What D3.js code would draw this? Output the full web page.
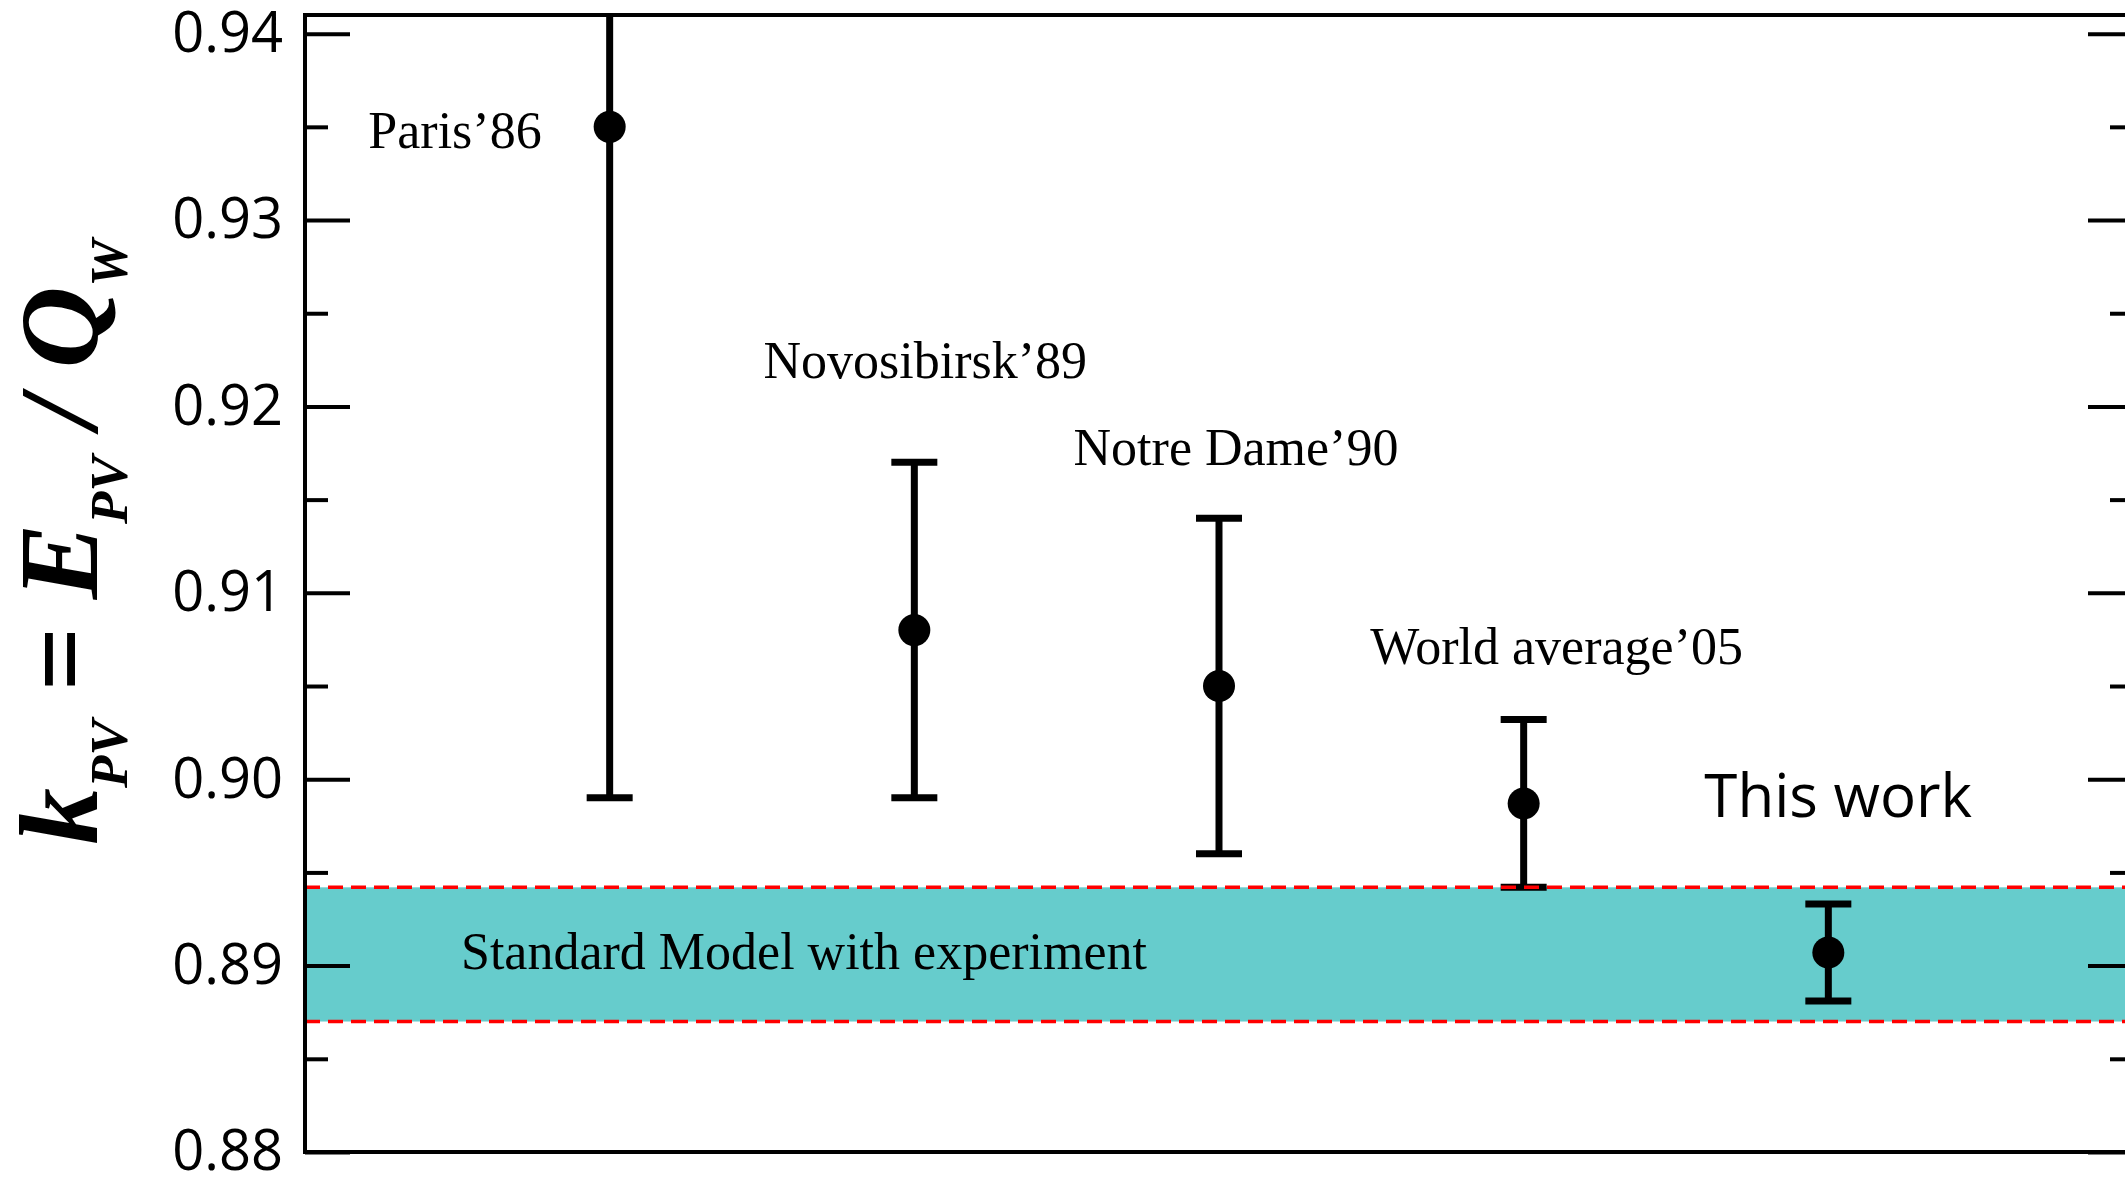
<!DOCTYPE html>
<html>
<head>
<meta charset="utf-8">
<script src="https://cdn.jsdelivr.net/npm/d3@7"></script>
<style>
  html, body { margin: 0; padding: 0; background: #fff; }
  svg { display: block; }
</style>
</head>
<body>
<script>
// data
const experiments = ['Paris\u201986', 'Novosibirsk\u201989', 'Notre Dame\u201990', 'World average\u201905', 'This work'];
const kpvValues = [0.935, 0.908, 0.905, 0.8987, 0.8907];
const kpvErrors = [0.036, 0.009, 0.009, 0.0045, 0.0026];
const yMajorTicks = [0.88, 0.89, 0.90, 0.91, 0.92, 0.93, 0.94];
const yTickLabels = ['0.88', '0.89', '0.90', '0.91', '0.92', '0.93', '0.94'];
const yMinorTicks = [0.885, 0.895, 0.905, 0.915, 0.925, 0.935];
const smBand = [0.8870, 0.8942];
const smLabel = 'Standard Model with experiment';

const width = 2125;
const height = 1177;
const plot = { left: 305, right: 2133, top: 15, bottom: 1152 };

const svg = d3.select('body').append('svg')
    .attr('width', width)
    .attr('height', height);

const x = d3.scalePoint()
    .domain(experiments)
    .range([plot.left, plot.right])
    .padding(1.0);

const y = d3.scaleLinear()
    .domain([0.88, 0.941])
    .range([plot.bottom, plot.top]);

svg.append('clipPath').attr('id', 'plotClip')
    .append('rect')
    .attr('x', plot.left)
    .attr('y', plot.top)
    .attr('width', plot.right - plot.left)
    .attr('height', plot.bottom - plot.top);

const inner = svg.append('g').attr('clip-path', 'url(#plotClip)');

// standard model band
inner.append('rect')
    .attr('x', plot.left)
    .attr('y', y(smBand[1]))
    .attr('width', plot.right - plot.left)
    .attr('height', y(smBand[0]) - y(smBand[1]))
    .attr('fill', '#66CCCC');

// error bars
const capHalf = 23;
const points = experiments.map((name, i) => ({ name, v: kpvValues[i], e: kpvErrors[i] }));

const bars = inner.selectAll('g.bar')
    .data(points)
    .enter()
    .append('g')
    .attr('class', 'bar');

bars.append('line')
    .attr('x1', (d) => x(d.name))
    .attr('x2', (d) => x(d.name))
    .attr('y1', (d) => y(d.v + d.e))
    .attr('y2', (d) => y(d.v - d.e))
    .attr('stroke', '#000')
    .attr('stroke-width', 7);

[1, -1].forEach((sign) =>
{
    bars.append('line')
        .attr('x1', (d) => x(d.name) - capHalf)
        .attr('x2', (d) => x(d.name) + capHalf)
        .attr('y1', (d) => y(d.v + sign * d.e))
        .attr('y2', (d) => y(d.v + sign * d.e))
        .attr('stroke', '#000')
        .attr('stroke-width', 7);
});

bars.append('circle')
    .attr('cx', (d) => x(d.name))
    .attr('cy', (d) => y(d.v))
    .attr('r', 16)
    .attr('fill', '#000');

// dashed band edges drawn over the bars
smBand.forEach((v) =>
{
    inner.append('line')
        .attr('x1', plot.left)
        .attr('x2', plot.right)
        .attr('y1', y(v))
        .attr('y2', y(v))
        .attr('stroke', '#FF0000')
        .attr('stroke-width', 3.5)
        .attr('stroke-dasharray', '15,8');
});

// axes, ticks pointing inwards
const leftMajor = d3.axisLeft(y)
    .tickValues(yMajorTicks)
    .tickFormat((d, i) => yTickLabels[i])
    .tickSizeInner(-45)
    .tickSizeOuter(0)
    .tickPadding(22);

const gLeft = svg.append('g')
    .attr('transform', `translate(${plot.left},0)`)
    .call(leftMajor);

gLeft.select('.domain').remove();
gLeft.selectAll('.tick line').attr('stroke', '#000').attr('stroke-width', 4);
gLeft.selectAll('.tick text')
    .attr('font-family', '"Open Sans", sans-serif')
    .attr('font-size', 56)
    .attr('fill', '#000');

const leftMinor = d3.axisLeft(y)
    .tickValues(yMinorTicks)
    .tickFormat('')
    .tickSizeInner(-23)
    .tickSizeOuter(0);

const gLeftMinor = svg.append('g')
    .attr('transform', `translate(${plot.left},0)`)
    .call(leftMinor);
gLeftMinor.select('.domain').remove();
gLeftMinor.selectAll('.tick line').attr('stroke', '#000').attr('stroke-width', 4);

const rightMajor = d3.axisRight(y).tickValues(yMajorTicks).tickFormat('').tickSizeInner(-45).tickSizeOuter(0);
const rightMinor = d3.axisRight(y).tickValues(yMinorTicks).tickFormat('').tickSizeInner(-23).tickSizeOuter(0);

[rightMajor, rightMinor].forEach((ax) =>
{
    const g = svg.append('g')
        .attr('transform', `translate(${plot.right},0)`)
        .call(ax);
    g.select('.domain').remove();
    g.selectAll('.tick line').attr('stroke', '#000').attr('stroke-width', 4);
});

// frame
svg.append('rect')
    .attr('x', plot.left)
    .attr('y', plot.top)
    .attr('width', plot.right - plot.left)
    .attr('height', plot.bottom - plot.top)
    .attr('fill', 'none')
    .attr('stroke', '#000')
    .attr('stroke-width', 4);

// experiment labels (offsets relative to each point / upper cap)
const serif = '"Liberation Serif", "Times New Roman", serif';
const labelPlacement = [
    { anchor: 'end', dx: -68, ref: 'dot', dy: 21 },
    { anchor: 'middle', dx: 11, ref: 'top', dy: -84 },
    { anchor: 'middle', dx: 17, ref: 'top', dy: -53 },
    { anchor: 'middle', dx: 33, ref: 'top', dy: -56 },
    { anchor: 'start', dx: -124, ref: 'dot', dy: -136 },
];

points.forEach((d, i) =>
{
    const p = labelPlacement[i];
    const baseY = p.ref === 'dot' ? y(d.v) : y(d.v + d.e);
    const t = svg.append('text')
        .attr('x', x(d.name) + p.dx)
        .attr('y', baseY + p.dy)
        .attr('text-anchor', p.anchor)
        .attr('fill', '#000')
        .text(d.name);
    if (d.name === 'This work')
    {
        t.attr('font-family', '"Open Sans", sans-serif').attr('font-size', 60);
    }
    else
    {
        t.attr('font-family', serif).attr('font-size', 52);
    }
});

svg.append('text')
    .attr('x', 461)
    .attr('y', y((smBand[0] + smBand[1]) / 2) + 15)
    .attr('font-family', serif)
    .attr('font-size', 52)
    .attr('fill', '#000')
    .text(smLabel);

// y axis title: k_PV = E_PV / Q_W
const title = svg.append('text')
    .attr('transform', 'translate(97,542) rotate(-90)')
    .attr('text-anchor', 'middle')
    .attr('font-family', serif)
    .attr('font-weight', 'bold')
    .attr('font-style', 'italic')
    .attr('font-size', 113)
    .attr('fill', '#000');

const subShift = 30;
title.append('tspan').text('k');
title.append('tspan').attr('font-size', 53).attr('dy', subShift).text('PV');
title.append('tspan').attr('dy', -subShift).text(' = E');
title.append('tspan').attr('font-size', 53).attr('dy', subShift).text('PV');
title.append('tspan').attr('dy', -subShift).text(' / Q');
title.append('tspan').attr('font-size', 53).attr('dy', subShift).text('W');
</script>
</body>
</html>
